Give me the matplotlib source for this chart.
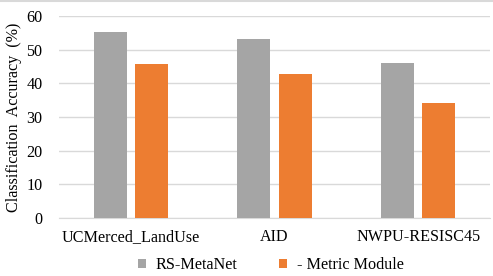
import matplotlib.pyplot as plt
import numpy as np

plt.rcParams['font.family'] = ['Liberation Serif', 'DejaVu Serif']

datasets = ['UCMerced_LandUse', 'AID', 'NWPU-RESISC45']
rs_metanet = [55.2, 53.1, 46.0]
metric_module = [45.7, 42.7, 34.1]
series_names = ['RS-MetaNet', '- Metric Module']
y_ticks = [0, 10, 20, 30, 40, 50, 60]

fig = plt.figure(figsize=(4.93, 2.76), dpi=100)
ax = fig.add_axes([59 / 493, 1 - 218 / 276, 431 / 493, 202 / 276])

x = np.arange(len(datasets))
w = 0.23
off = 0.143
ax.bar(x - off, rs_metanet, w, color='#a5a5a5', label=series_names[0], zorder=3)
ax.bar(x + off, metric_module, w, color='#ed7d31', label=series_names[1], zorder=3)

ax.set_xlim(-0.5, 2.5)
ax.set_ylim(0, 60)
ax.set_yticks(y_ticks)
ax.set_xticks(x)
ax.set_xticklabels(datasets, fontsize=11.6)
ax.tick_params(axis='y', labelsize=11.6, length=0, pad=12)
ax.tick_params(axis='x', length=0, pad=8)
ax.grid(axis='y', color='#d9d9d9', linewidth=1, zorder=0)
for s in ['top', 'right', 'left']:
    ax.spines[s].set_visible(False)
ax.spines['bottom'].set_color('#d9d9d9')

fig.text(14 / 493, 1 - 117 / 276, 'Classification  Accuracy  (%)', rotation=90,
         ha='center', va='center', fontsize=11.6)

leg = fig.legend(loc='center', bbox_to_anchor=(1 - 222 / 493, 1 - 265 / 276), ncol=2,
                 frameon=False, prop={'family': 'Liberation Serif', 'size': 11.6},
                 handlelength=0.5, handleheight=0.5,
                 handletextpad=0.6, columnspacing=2.6, borderaxespad=0, borderpad=0)

fig.add_artist(plt.Line2D([0, 1], [0.998, 0.998], color='#d9d9d9', linewidth=1.5,
                          transform=fig.transFigure))

fig.savefig('out.png', dpi=100)
